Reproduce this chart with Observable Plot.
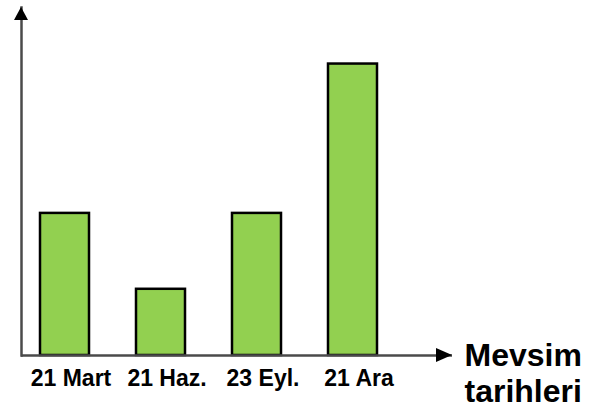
<!DOCTYPE html>
<html>
<head>
<meta charset="utf-8">
<script src="https://cdn.jsdelivr.net/npm/d3@7"></script>
<script src="https://cdn.jsdelivr.net/npm/@observablehq/plot@0.6"></script>
<style>
  html, body { margin: 0; padding: 0; background: #fff; }
</style>
</head>
<body>
<div id="chart"></div>
<script>
const categories = ["21 Mart", "21 Haz.", "23 Eyl.", "21 Ara"];
const values = [2.94, 1.37, 2.94, 6.03];
const axisTitle = ["Mevsim\ntarihleri"];

const data = categories.map((c, i) => ({date: c, value: values[i]}));

const W = 603, H = 408;
const plot = Plot.plot({
  width: W,
  height: H,
  marginLeft: 21,
  marginRight: 151,
  marginTop: 7,
  marginBottom: 53,
  style: {fontFamily: "'Liberation Sans', Arial, sans-serif", fontWeight: "bold", color: "#000", background: "#fff", overflow: "visible"},
  x: {domain: categories, range: [21, 395], paddingInner: 0.49, paddingOuter: 0.19, axis: null},
  y: {domain: [0, 7.2], axis: null},
  marks: [
    Plot.barY(data, {x: "date", y: "value", fill: "#92D050", stroke: "#000", strokeWidth: 2.5}),
    Plot.ruleY([0], {stroke: "#4a4a4a", strokeWidth: 2.5}),
    Plot.frame({anchor: "left", stroke: "#4a4a4a", strokeWidth: 2.5}),
    Plot.axisX({tickSize: 0, tickPadding: 14, fontSize: 23, fontWeight: "bold", dx: 6, fill: "#000", label: null}),
    Plot.text(axisTitle, {frameAnchor: "bottom-right", textAnchor: "start", lineAnchor: "top", dx: 12, dy: -15, fontSize: 32, fontWeight: "bold", lineHeight: 1.12, fill: "#000"})
  ]
});

// arrowheads at the ends of the two axis lines, placed from the plot's scales
const ys = plot.scale("y");
const y0 = ys.apply(0);
const yTop = Math.min(...ys.range);
const xLeft = 21, xRight = W - 151;
const svg = d3.select(plot);
svg.append("polygon")
  .attr("points", `${xRight},${y0} ${xRight - 16},${y0 - 7} ${xRight - 16},${y0 + 7}`)
  .attr("fill", "#000");
svg.append("polygon")
  .attr("points", `${xLeft},${yTop} ${xLeft - 7},${yTop + 13} ${xLeft + 7},${yTop + 13}`)
  .attr("fill", "#000");

document.getElementById("chart").appendChild(plot);
</script>
</body>
</html>
